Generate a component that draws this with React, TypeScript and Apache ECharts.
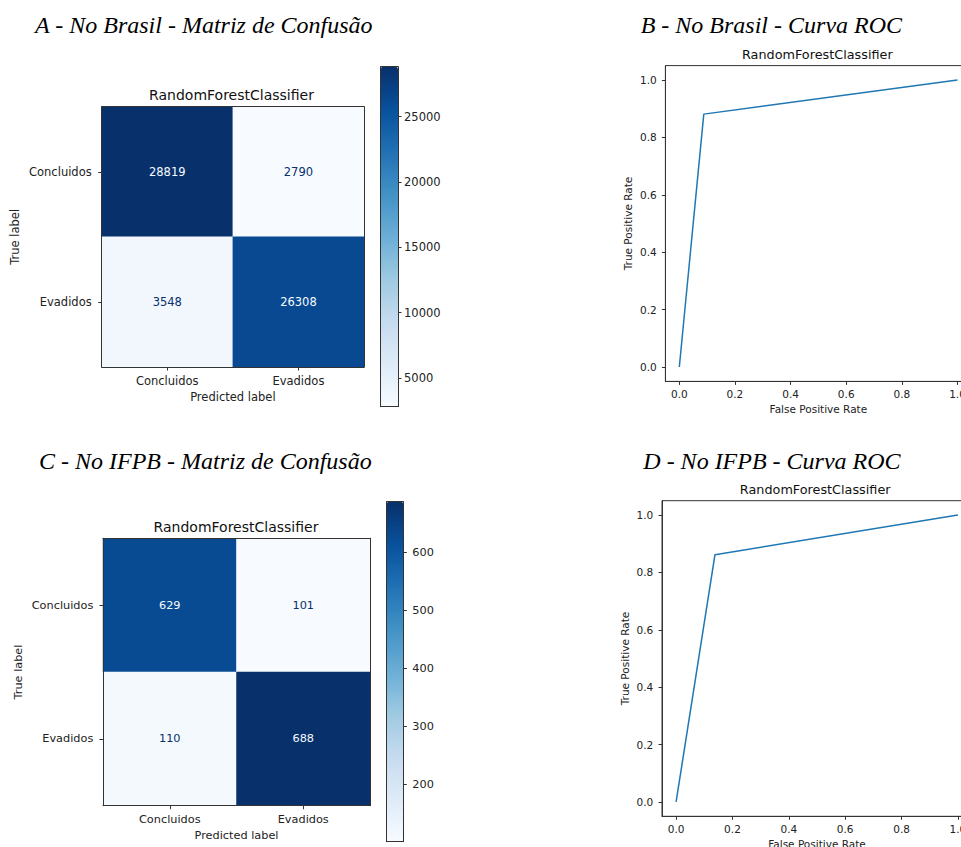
import React, { useEffect, useRef } from 'react';
import * as echarts from 'echarts';

// ---------------- data ----------------
const classes = ['Concluidos', 'Evadidos'];
const cmBrasil = [
  [28819, 2790],
  [3548, 26308],
];
const cmIfpb = [
  [629, 101],
  [110, 688],
];
const rocBrasilFpr = [0, 0.088, 1];
const rocBrasilTpr = [0, 0.881, 1];
const rocIfpbFpr = [0, 0.138, 1];
const rocIfpbTpr = [0, 0.862, 1];
const cbTicksBrasil = [5000, 10000, 15000, 20000, 25000];
const cbTicksIfpb = [200, 300, 400, 500, 600];
const rocTicks = [0, 0.2, 0.4, 0.6, 0.8, 1.0];
const panelTitles = [
  'A - No Brasil - Matriz de Confusão',
  'B - No Brasil - Curva ROC',
  'C - No IFPB - Matriz de Confusão',
  'D - No IFPB - Curva ROC',
];
const subTitle = 'RandomForestClassifier';

// ---------------- styles ----------------
const BLUES = ['#f7fbff', '#deebf7', '#c6dbef', '#9ecae1', '#6baed6', '#4292c6', '#2171b5', '#08519c', '#08306b'];
const FONT = 'DejaVu Sans';
const TXT = '#222';
const SPINE = '#333';
const LINE = '#1f77b4';

const matA = { left: 101.7, top: 106.7, width: 262.3, height: 260.3 };
const cbA = { left: 380.7, top: 66.7, width: 17.3, height: 340 };
const rocB = { left: 665.4, top: 65.6, width: 306, height: 315.8 };
const matC = { left: 103, top: 538.3, width: 267, height: 267.4 };
const cbC = { left: 386.7, top: 501.7, width: 16.6, height: 340 };
const rocD = { left: 662, top: 500.7, width: 310, height: 315.6 };

function buildOption() {
  const grids: any[] = [];
  const xAxes: any[] = [];
  const yAxes: any[] = [];
  const series: any[] = [];
  const visualMaps: any[] = [];

  const gridBox = (box: any, extra: any = {}) => ({
    ...box,
    containLabel: false,
    outerBoundsMode: 'none',
    ...extra,
  });

  const lineOnly = (g: number, pos: string, kind: 'x' | 'y', cat: boolean) => ({
    gridIndex: g,
    type: cat ? 'category' : 'value',
    data: cat ? classes : undefined,
    inverse: cat && kind === 'y' ? true : undefined,
    min: cat ? undefined : 0,
    max: cat ? undefined : 1,
    position: pos,
    z: 10,
    axisLine: { show: true, onZero: false, lineStyle: { color: SPINE, width: 1 } },
    axisTick: { show: false },
    axisLabel: { show: false },
    splitLine: { show: false },
  });

  const labelStyle = (size: number, margin: number) => ({
    fontSize: size,
    fontFamily: FONT,
    color: TXT,
    margin,
  });

  const addMatrix = (
    box: any,
    cb: any,
    cm: number[][],
    ticks: number[],
    opts: { yMargin: number; yNameGap: number; cbMargin: number },
    mainFs: number
  ) => {
    const g = grids.length;
    grids.push(gridBox(box));
    const xi = xAxes.length;
    xAxes.push({
      gridIndex: g,
      type: 'category',
      data: classes,
      position: 'bottom',
      z: 10,
      axisLine: { show: true, lineStyle: { color: SPINE, width: 1 } },
      axisTick: { show: true, alignWithLabel: true, interval: 0, length: 3.5, lineStyle: { color: SPINE } },
      axisLabel: { ...labelStyle(mainFs, 8), interval: 0 },
      splitLine: { show: false },
      name: 'Predicted label',
      nameLocation: 'middle',
      nameGap: 24,
      nameTextStyle: { fontSize: mainFs, fontFamily: FONT, color: TXT },
    });
    xAxes.push(lineOnly(g, 'top', 'x', true));
    const yi = yAxes.length;
    yAxes.push({
      gridIndex: g,
      type: 'category',
      data: classes,
      inverse: true,
      position: 'left',
      z: 10,
      axisLine: { show: true, lineStyle: { color: SPINE, width: 1 } },
      axisTick: { show: true, alignWithLabel: true, interval: 0, length: 3.5, lineStyle: { color: SPINE } },
      axisLabel: { ...labelStyle(mainFs, opts.yMargin), interval: 0 },
      splitLine: { show: false },
      name: 'True label',
      nameLocation: 'middle',
      nameGap: opts.yNameGap,
      nameTextStyle: { fontSize: mainFs, fontFamily: FONT, color: TXT },
    });
    yAxes.push(lineOnly(g, 'right', 'y', true));

    const values = cm.flat();
    const vmin = Math.min(...values);
    const vmax = Math.max(...values);
    const thresh = (vmin + vmax) / 2;
    const data: any[] = [];
    cm.forEach((row, i) =>
      row.forEach((v, j) => {
        data.push({
          value: [j, i, v],
          label: { color: v < thresh ? BLUES[BLUES.length - 1] : BLUES[0] },
        });
      })
    );
    const si = series.length;
    series.push({
      type: 'heatmap',
      xAxisIndex: xi,
      yAxisIndex: yi,
      data,
      label: { show: true, fontSize: mainFs, fontFamily: FONT, formatter: (p: any) => String(p.value[2]) },
      emphasis: { disabled: true },
      itemStyle: { borderWidth: 0 },
    });

    // colorbar
    visualMaps.push({
      type: 'continuous',
      seriesIndex: si,
      min: vmin,
      max: vmax,
      inRange: { color: BLUES },
      show: true,
      calculable: false,
      hoverLink: false,
      orient: 'vertical',
      left: cb.left,
      top: cb.top,
      itemWidth: cb.width,
      itemHeight: cb.height,
      padding: 0,
      text: null,
      showLabel: false,
    });
    const cg = grids.length;
    grids.push(gridBox(cb));
    xAxes.push(lineOnly(cg, 'bottom', 'x', false));
    xAxes.push(lineOnly(cg, 'top', 'x', false));
    yAxes.push(lineOnly(cg, 'left', 'y', false));
    yAxes.push({
      gridIndex: cg,
      type: 'value',
      min: vmin,
      max: vmax,
      position: 'right',
      z: 10,
      axisLine: { show: true, onZero: false, lineStyle: { color: SPINE, width: 1 } },
      axisTick: { show: true, customValues: ticks, length: 3.5, lineStyle: { color: SPINE } },
      axisLabel: { ...labelStyle(mainFs, opts.cbMargin), customValues: ticks, formatter: (v: number) => String(v) },
      splitLine: { show: false },
    });
  };

  const addRoc = (box: any, fpr: number[], tpr: number[], opts: { yMargin: number; xNameGap: number; yNameGap: number }) => {
    const g = grids.length;
    grids.push(gridBox(box, { show: true, borderColor: SPINE, borderWidth: 1, backgroundColor: 'transparent' }));
    const fs = 10.5;
    const xi = xAxes.length;
    xAxes.push({
      gridIndex: g,
      type: 'value',
      min: -0.05,
      max: 1.05,
      position: 'bottom',
      z: 10,
      axisLine: { show: true, onZero: false, lineStyle: { color: SPINE, width: 1 } },
      axisTick: { show: true, customValues: rocTicks, length: 3.5, lineStyle: { color: SPINE } },
      axisLabel: { ...labelStyle(fs, 7.5), customValues: rocTicks, formatter: (v: number) => v.toFixed(1) },
      splitLine: { show: false },
      name: 'False Positive Rate',
      nameLocation: 'middle',
      nameGap: opts.xNameGap,
      nameTextStyle: { fontSize: fs, fontFamily: FONT, color: TXT },
    });
    const yi = yAxes.length;
    yAxes.push({
      gridIndex: g,
      type: 'value',
      min: -0.05,
      max: 1.05,
      position: 'left',
      z: 10,
      axisLine: { show: true, onZero: false, lineStyle: { color: SPINE, width: 1 } },
      axisTick: { show: true, customValues: rocTicks, length: 3.5, lineStyle: { color: SPINE } },
      axisLabel: { ...labelStyle(fs, opts.yMargin), customValues: rocTicks, formatter: (v: number) => v.toFixed(1) },
      splitLine: { show: false },
      name: 'True Positive Rate',
      nameLocation: 'middle',
      nameGap: opts.yNameGap,
      nameTextStyle: { fontSize: fs, fontFamily: FONT, color: TXT },
    });
    series.push({
      type: 'line',
      xAxisIndex: xi,
      yAxisIndex: yi,
      data: fpr.map((x, i) => [x, tpr[i]]),
      showSymbol: false,
      symbol: 'none',
      lineStyle: { color: LINE, width: 1.5 },
      itemStyle: { color: LINE },
      emphasis: { disabled: true },
    });
  };

  addMatrix(matA, cbA, cmBrasil, cbTicksBrasil, { yMargin: 10, yNameGap: 81, cbMargin: 6 }, 11.5);
  addRoc(rocB, rocBrasilFpr, rocBrasilTpr, { yMargin: 8.7, xNameGap: 22.5, yNameGap: 32 });
  addMatrix(matC, cbC, cmIfpb, cbTicksIfpb, { yMargin: 9.7, yNameGap: 79, cbMargin: 9 }, 11.3);
  addRoc(rocD, rocIfpbFpr, rocIfpbTpr, { yMargin: 8.7, xNameGap: 22, yNameGap: 32 });

  const titleText = (text: string, x: number, y: number) => ({
    type: 'text',
    x,
    y,
    silent: true,
    style: {
      text,
      fill: '#000',
      fontSize: 24,
      fontStyle: 'italic',
      fontFamily: 'Liberation Serif',
      align: 'left',
      verticalAlign: 'middle',
      textAlign: 'left',
      textVerticalAlign: 'middle',
    },
  });
  const subText = (x: number, y: number, fs: number) => ({
    type: 'text',
    x,
    y,
    silent: true,
    style: {
      text: subTitle,
      fill: '#111',
      fontSize: fs,
      fontFamily: FONT,
      align: 'center',
      verticalAlign: 'middle',
      textAlign: 'center',
      textVerticalAlign: 'middle',
    },
  });

  return {
    animation: false,
    backgroundColor: '#ffffff',
    grid: grids,
    xAxis: xAxes,
    yAxis: yAxes,
    visualMap: visualMaps,
    series,
    graphic: [
      titleText(panelTitles[0], 35, 25.2),
      titleText(panelTitles[1], 640.7, 25.2),
      titleText(panelTitles[2], 39, 461.2),
      titleText(panelTitles[3], 643.3, 461.2),
      subText(231.5, 95, 14),
      subText(817.3, 54.3, 12.8),
      subText(236, 527.3, 14),
      subText(815.2, 489, 12.8),
    ],
  };
}

export default function App() {
  const ref = useRef<HTMLDivElement>(null);
  useEffect(() => {
    if (!ref.current) return;
    const chart = echarts.init(ref.current, undefined, { renderer: 'svg' });
    chart.setOption(buildOption() as any);
    return () => chart.dispose();
  }, []);
  return (
    <div
      ref={ref}
      style={{ position: 'absolute', left: 0, top: 0, width: 961, height: 847, background: '#fff' }}
    />
  );
}
